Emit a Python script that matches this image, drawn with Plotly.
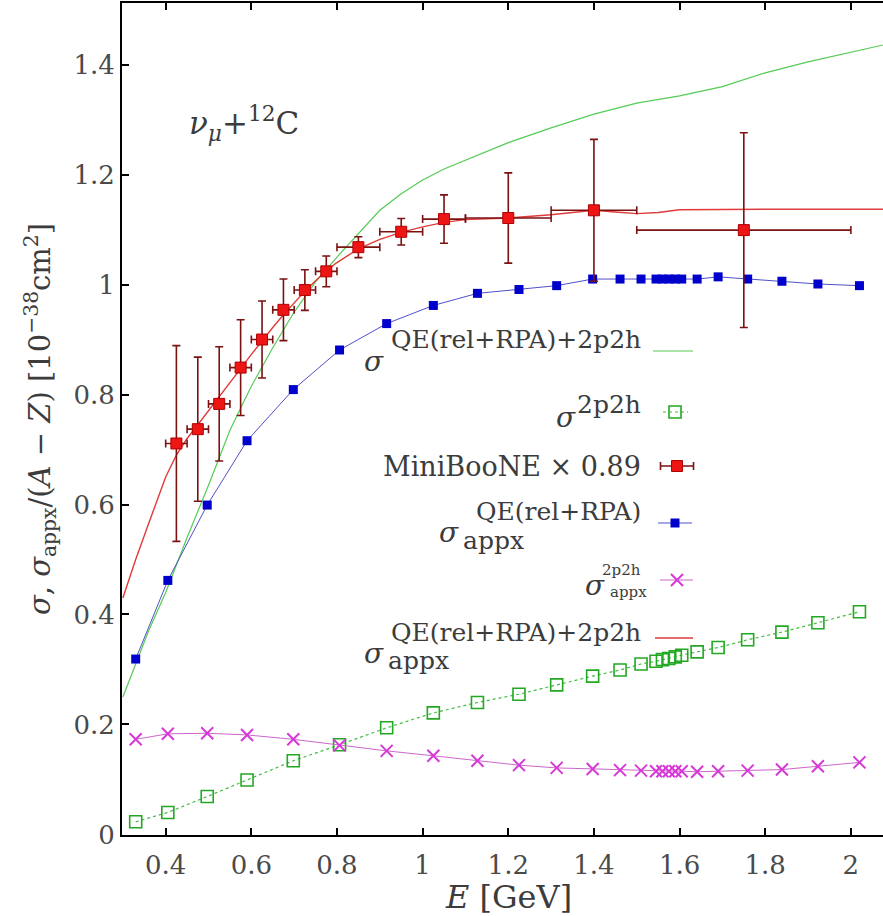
import plotly.graph_objects as go

# ---------------- data ----------------
E_model = [0.33, 0.405, 0.497, 0.59, 0.698, 0.806, 0.916, 1.025, 1.128, 1.225, 1.313, 1.397,
           1.461, 1.51, 1.545, 1.56, 1.575, 1.59, 1.605, 1.641, 1.69, 1.759, 1.839, 1.923, 2.02]
sig_appx_qe = [0.319, 0.462, 0.599, 0.716, 0.809, 0.881, 0.929, 0.962, 0.984, 0.991, 0.998, 1.010,
               1.010, 1.010, 1.010, 1.010, 1.010, 1.010, 1.010, 1.010, 1.014, 1.010, 1.006, 1.001, 0.998]
sig_2p2h = [0.023, 0.040, 0.069, 0.099, 0.134, 0.163, 0.194, 0.221, 0.240, 0.255, 0.272, 0.288,
            0.299, 0.310, 0.315, 0.318, 0.320, 0.323, 0.326, 0.332, 0.340, 0.354, 0.368, 0.385, 0.405]
sig_appx_2p2h = [0.173, 0.183, 0.184, 0.181, 0.173, 0.162, 0.152, 0.143, 0.134, 0.126, 0.121, 0.119,
                 0.117, 0.116, 0.115, 0.115, 0.115, 0.115, 0.115, 0.114, 0.115, 0.116, 0.118, 0.124, 0.131]

E_tot = [0.3, 0.33, 0.36, 0.4, 0.45, 0.5, 0.55, 0.6, 0.65, 0.7, 0.75, 0.8, 0.85, 0.9, 0.95, 1.0,
         1.05, 1.1, 1.2, 1.3, 1.4, 1.5, 1.6, 1.7, 1.8, 1.9, 2.0, 2.1]
sig_tot = [0.25, 0.31, 0.37, 0.44, 0.54, 0.635, 0.735, 0.815, 0.885, 0.95, 1.005, 1.05, 1.093, 1.135,
           1.165, 1.19, 1.21, 1.226, 1.258, 1.285, 1.31, 1.33, 1.343, 1.36, 1.385, 1.405, 1.422, 1.44]

E_appx_tot = [0.3, 0.33, 0.36, 0.4, 0.425, 0.45, 0.475, 0.5, 0.525, 0.55, 0.575, 0.6, 0.625, 0.65,
              0.675, 0.7, 0.725, 0.75, 0.775, 0.8, 0.85, 0.9, 0.95, 1.0, 1.05, 1.1, 1.2, 1.3, 1.4,
              1.45, 1.5, 1.55, 1.6, 1.8, 2.1]
sig_appx_tot = [0.43, 0.50, 0.565, 0.65, 0.69, 0.72, 0.745, 0.77, 0.795, 0.82, 0.847, 0.873, 0.898,
                0.922, 0.945, 0.967, 0.988, 1.007, 1.025, 1.04, 1.065, 1.082, 1.095, 1.105, 1.113,
                1.118, 1.121, 1.127, 1.135, 1.132, 1.129, 1.131, 1.136, 1.137, 1.137]

mb_E = [0.425, 0.475, 0.525, 0.575, 0.625, 0.675, 0.725, 0.775, 0.85, 0.95, 1.05, 1.2, 1.4, 1.75]
mb_dE = [0.025, 0.025, 0.025, 0.025, 0.025, 0.025, 0.025, 0.025, 0.05, 0.05, 0.05, 0.1, 0.1, 0.25]
mb_sig = [0.711, 0.737, 0.783, 0.849, 0.900, 0.954, 0.990, 1.024, 1.068, 1.096, 1.119, 1.121, 1.135, 1.099]
mb_err = [0.178, 0.131, 0.104, 0.087, 0.070, 0.056, 0.037, 0.028, 0.019, 0.024, 0.044, 0.082, 0.129, 0.177]

x_ticks = [0.4, 0.6, 0.8, 1.0, 1.2, 1.4, 1.6, 1.8, 2.0]
x_ticktext = ["0.4", "0.6", "0.8", "1", "1.2", "1.4", "1.6", "1.8", "2"]
y_ticks = [0, 0.2, 0.4, 0.6, 0.8, 1.0, 1.2, 1.4]
y_ticktext = ["0", "0.2", "0.4", "0.6", "0.8", "1", "1.2", "1.4"]

# ---------------- style ----------------
FONT = "DejaVu Serif"
TXT = "#3c3c3c"
C_GREEN_LINE = "#55cc55"
C_GREEN_SQ = "#22a822"
C_BLUE = "#0000cc"
C_BLUE_LINE = "#5050c8"
C_MAG = "#d63ad6"
C_MAG_LINE = "#cc66cc"
C_RED = "#ee1515"
C_RED_LINE = "#e03a3a"
C_ERR = "#7a1212"

W, H = 883, 916
L, R, T, B = 122, 0, 3, 81
PW, PH = W - L - R, H - T - B

fig = go.Figure()

fig.add_trace(go.Scatter(x=E_tot, y=sig_tot, mode="lines",
                         line=dict(color=C_GREEN_LINE, width=1.2), showlegend=False))
fig.add_trace(go.Scatter(x=E_appx_tot, y=sig_appx_tot, mode="lines",
                         line=dict(color=C_RED_LINE, width=1.4), showlegend=False))
fig.add_trace(go.Scatter(x=E_model, y=sig_appx_qe, mode="lines+markers",
                         line=dict(color=C_BLUE_LINE, width=1),
                         marker=dict(symbol="square", size=9, color=C_BLUE), showlegend=False))
fig.add_trace(go.Scatter(x=E_model, y=sig_2p2h, mode="lines+markers",
                         line=dict(color="#44bb44", width=1.2, dash="dot"),
                         marker=dict(symbol="square-open", size=12, color=C_GREEN_SQ,
                                     line=dict(width=1.6, color=C_GREEN_SQ)), showlegend=False))
fig.add_trace(go.Scatter(x=E_model, y=sig_appx_2p2h, mode="lines+markers",
                         line=dict(color=C_MAG_LINE, width=1),
                         marker=dict(symbol="x-thin-open", size=12, color=C_MAG,
                                     line=dict(width=2, color=C_MAG)), showlegend=False))
fig.add_trace(go.Scatter(x=mb_E, y=mb_sig, mode="markers",
                         error_y=dict(type="data", array=mb_err, color=C_ERR, thickness=1.6, width=4),
                         error_x=dict(type="data", array=mb_dE, color=C_ERR, thickness=1.6, width=4),
                         marker=dict(symbol="square", size=11, color=C_RED,
                                     line=dict(width=1, color="#b00000")), showlegend=False))

# ---------------- legend keys (pixel overlay axes) ----------------
def key(xs, ys, **kw):
    fig.add_trace(go.Scatter(x=xs, y=ys, xaxis="x2", yaxis="y2", showlegend=False,
                             hoverinfo="skip", **kw))

key([653, 693], [351, 351], mode="lines", line=dict(color=C_GREEN_LINE, width=1.2))
key([663, 688], [412, 412], mode="lines", line=dict(color="#44bb44", width=1.2, dash="dot"))
key([675], [412], mode="markers", marker=dict(symbol="square-open", size=12, color=C_GREEN_SQ,
                                              line=dict(width=1.6, color=C_GREEN_SQ)))
key([677], [466], mode="markers",
    error_x=dict(type="data", array=[16.5], color=C_ERR, thickness=1.6, width=4),
    marker=dict(symbol="square", size=11, color=C_RED, line=dict(width=1, color="#b00000")))
key([658, 692], [523, 523], mode="lines", line=dict(color=C_BLUE_LINE, width=1))
key([675], [523], mode="markers", marker=dict(symbol="square", size=9, color=C_BLUE))
key([660, 693], [580, 580], mode="lines", line=dict(color=C_MAG_LINE, width=1))
key([677], [580], mode="markers", marker=dict(symbol="x-thin-open", size=12, color=C_MAG,
                                              line=dict(width=2, color=C_MAG)))
key([655, 693], [638, 638], mode="lines", line=dict(color=C_RED_LINE, width=1.4))

ann = []
def txt(text, px, py, size, xanchor="right", angle=0):
    ann.append(dict(text=text, x=(px - L) / PW, y=(H - B - py) / PH, xref="paper", yref="paper",
                    xanchor=xanchor, yanchor="middle",
                    showarrow=False, textangle=angle,
                    font=dict(family=FONT, size=size, color=TXT)))

# entry 1
txt("<i>σ</i>", 386, 361, 28)
txt("QE(rel+RPA)+2p2h", 643, 340, 25)
# entry 2
txt("<i>σ</i>", 578, 417, 28)
txt("2p2h", 643, 405, 25)
# entry 3
txt("MiniBooNE × 0.89", 643, 466, 27)
# entry 4
txt("<i>σ</i>", 461, 532, 28)
txt("QE(rel+RPA)", 643, 511, 25)
txt("appx", 461, 540, 25, xanchor="left")
# entry 5
txt("<i>σ</i>", 607, 585, 28)
txt("2p2h", 643, 570, 15)
txt("appx", 608, 592, 15, xanchor="left")
# entry 6
txt("<i>σ</i>", 386, 653, 28)
txt("QE(rel+RPA)+2p2h", 643, 632, 25)
txt("appx", 386, 660, 25, xanchor="left")

# reaction label
txt("<i>ν</i><sub><i>μ</i></sub>+<sup>12</sup>C", 187, 124, 31, xanchor="left")

# axis titles
txt("<i>E</i> [GeV]", 508, 897, 32, xanchor="center")
txt("<i>σ</i>, <i>σ</i><sub>appx</sub>/(<i>A</i> − <i>Z</i>) [10<sup>−38</sup>cm<sup>2</sup>]",
    40, 419, 29, xanchor="center", angle=-90)

axis_common = dict(showgrid=False, zeroline=False, showline=True, linecolor="black", linewidth=2,
                   ticks="inside", ticklen=7, tickwidth=1.5, tickcolor="black",
                   tickfont=dict(family=FONT, size=26, color="#4a4a4a"))

fig.update_layout(
    width=W, height=H, margin=dict(l=L, r=R, t=T, b=B),
    paper_bgcolor="white", plot_bgcolor="white",
    xaxis=dict(range=[0.298, 2.075], tickvals=x_ticks, ticktext=x_ticktext, mirror="ticks",
               ticklabelstandoff=6, **axis_common),
    yaxis=dict(range=[-0.001, 1.512], tickvals=y_ticks, ticktext=y_ticktext, mirror=False,
               ticklabelstandoff=0, **axis_common),
    xaxis2=dict(range=[L, W - R], overlaying="x", visible=False, anchor="y2", fixedrange=True),
    yaxis2=dict(range=[H - B, T], overlaying="y", visible=False, anchor="x2", fixedrange=True),
    annotations=ann,
    showlegend=False,
)

fig.write_html("out.html")
